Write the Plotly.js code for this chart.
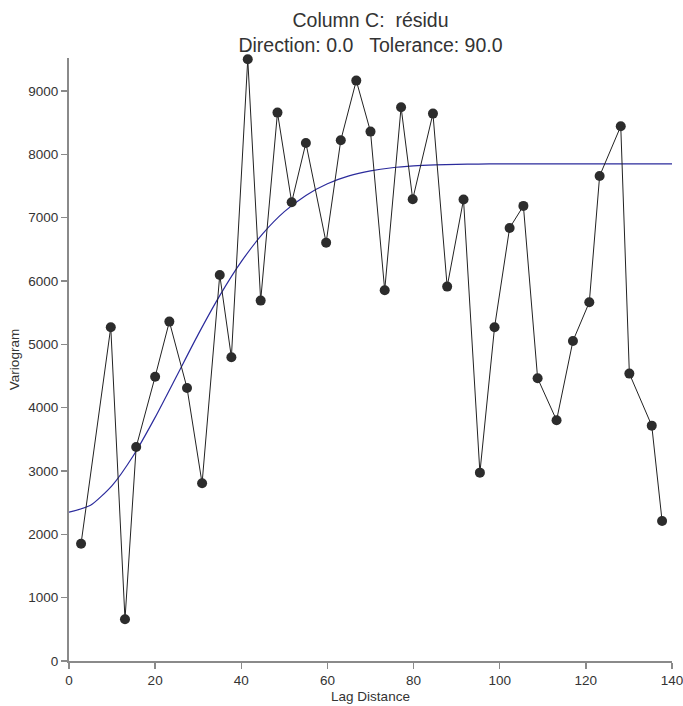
<!DOCTYPE html>
<html>
<head>
<meta charset="utf-8">
<script src="https://cdn.plot.ly/plotly-3.0.1.min.js"></script>
<style>html,body{margin:0;padding:0;background:#fff;}#chart{width:683px;height:706px;}</style>
</head>
<body>
<div id="chart"></div>
<script>
// Experimental variogram points (lag distance, variogram)
var lagDistance = [2.8, 9.7, 13.0, 15.6, 20.0, 23.3, 27.4, 30.9, 35.0, 37.7, 41.5, 44.5, 48.4, 51.7, 55.0, 59.7, 63.1, 66.7, 70.0, 73.3, 77.1, 79.8, 84.5, 87.8, 91.6, 95.4, 98.8, 102.3, 105.5, 108.8, 113.2, 117.0, 120.8, 123.2, 128.1, 130.1, 135.3, 137.7];
var variogram = [1852, 5269, 658, 3379, 4489, 5358, 4311, 2806, 6095, 4795, 9501, 5690, 8658, 7243, 8179, 6605, 8221, 9163, 8358, 5853, 8743, 7290, 8642, 5911, 7285, 2974, 5269, 6837, 7185, 4464, 3800, 5053, 5664, 7658, 8443, 4537, 3716, 2211];

// Model curve
var modelX = [0, 5, 10, 15, 20, 25, 30, 35, 40, 45, 50, 55, 60, 65, 70, 75, 80, 85, 90, 95, 100, 110, 120, 130, 140];
var modelY = [2350, 2458, 2770, 3249, 3846, 4500, 5157, 5769, 6305, 6747, 7094, 7351, 7534, 7658, 7737, 7787, 7816, 7832, 7841, 7846, 7848, 7850, 7850, 7850, 7850];

var xTicks = [0, 20, 40, 60, 80, 100, 120, 140];
var yTicks = [0, 1000, 2000, 3000, 4000, 5000, 6000, 7000, 8000, 9000];

var textColor = '#333333';
var axisColor = '#8a8a8a';
var fontFamily = 'Liberation Sans, Arial, sans-serif';

var traces = [
  {
    x: modelX, y: modelY, type: 'scatter', mode: 'lines',
    line: {color: '#2b2b9c', width: 1.2, shape: 'spline', smoothing: 0.6},
    hoverinfo: 'skip', showlegend: false
  },
  {
    x: lagDistance, y: variogram, type: 'scatter', mode: 'lines+markers',
    line: {color: '#222222', width: 1},
    marker: {color: '#2c2c2c', size: 10},
    cliponaxis: false, showlegend: false
  }
];

var layout = {
  width: 683, height: 706,
  margin: {l: 69, r: 11, t: 58, b: 45},
  paper_bgcolor: '#ffffff', plot_bgcolor: '#ffffff',
  font: {family: fontFamily, color: textColor, size: 13.5},
  title: {
    text: 'Column C:  résidu<br>Direction: 0.0   Tolerance: 90.0',
    font: {family: fontFamily, size: 19.5, color: textColor},
    x: 0.5, xanchor: 'center', xref: 'paper', y: 0.962, yanchor: 'top'
  },
  xaxis: {
    range: [0, 140], tickvals: xTicks, ticktext: xTicks.map(String),
    showgrid: false, zeroline: false, showline: true, linecolor: axisColor, linewidth: 2,
    ticks: 'outside', ticklen: 6, tickcolor: axisColor, tickwidth: 1.5,
    tickfont: {size: 13.5, color: textColor}, ticklabeloverflow: 'allow',
    title: {text: 'Lag Distance', font: {size: 13.5, color: textColor}, standoff: 4}
  },
  yaxis: {
    range: [0, 9520], tickvals: yTicks, ticktext: yTicks.map(String),
    showgrid: false, zeroline: false, showline: true, linecolor: axisColor, linewidth: 2,
    ticks: 'outside', ticklen: 6, tickcolor: axisColor, tickwidth: 1.5,
    tickfont: {size: 13.5, color: textColor},
    title: {text: 'Variogram', font: {size: 13.5, color: textColor}, standoff: 6}
  }
};

Plotly.newPlot('chart', traces, layout, {displayModeBar: false, staticPlot: true});
</script>
</body>
</html>
